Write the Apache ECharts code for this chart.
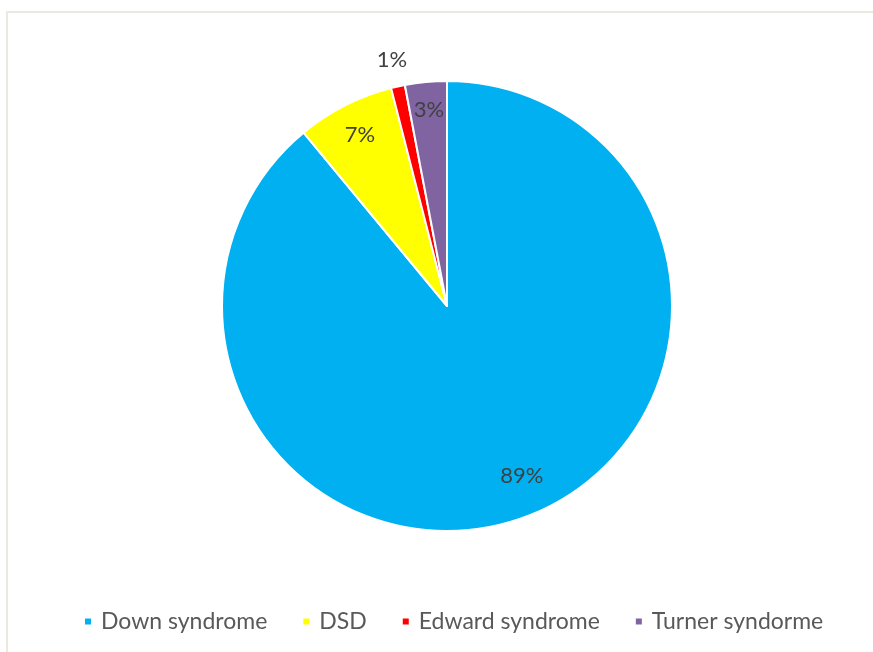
<!DOCTYPE html>
<html>
<head>
    <meta charset="utf-8" />
    <title>ECharts</title>
    <script src="https://cdn.jsdelivr.net/npm/echarts@6/dist/echarts.min.js"></script>
    <style>
        html, body { margin: 0; padding: 0; background: #fff; }
    </style>
</head>
<body>
    <div id="main" style="width: 873px;height:652px;"></div>
    <script type="text/javascript">
        var names = ['Down syndrome', 'DSD', 'Edward syndrome', 'Turner syndorme'];
        var values = [89, 7, 1, 3];
        var colors = ['#00b0f0', '#ffff00', '#ff0000', '#8064a2'];
        // small slices get their label outside the pie
        var outside = ['Edward syndrome'];

        var myChart = echarts.init(document.getElementById('main'));

        var pieData = [];
        var innerLabels = [];
        var outerLabels = [];
        for (var i = 0; i < names.length; i++) {
            pieData.push({ name: names[i], value: values[i], itemStyle: { color: colors[i] } });
            var isOut = outside.indexOf(names[i]) >= 0;
            innerLabels.push({ name: names[i], value: values[i], label: { show: !isOut } });
            outerLabels.push({ name: names[i], value: values[i], label: { show: isOut } });
        }
        // excel nudges the big label a little
        innerLabels[0].label.offset = [10, -10];
        innerLabels[3].label.offset = [0, -5];

        var labelStyle = {
            show: true,
            position: 'inside',
            formatter: '{c}%',
            fontFamily: 'Lato',
            fontSize: 22,
            color: '#404040'
        };

        var option = {
            backgroundColor: '#fff',
            animation: false,
            graphic: [{
                type: 'rect',
                shape: { x: 7, y: 12, width: 880, height: 660 },
                style: { fill: 'none', stroke: '#ebeae0', lineWidth: 2 },
                silent: true
            }],
            legend: {
                bottom: 14,
                left: 78,
                itemWidth: 8,
                itemHeight: 8,
                itemGap: 34,
                icon: 'rect',
                textStyle: { fontFamily: 'Lato', fontSize: 23, color: '#595959', padding: [0, 0, 0, 4] },
                data: names
            },
            series: [{
                type: 'pie',
                center: [447, 306],
                radius: 225,
                startAngle: 90,
                clockwise: true,
                label: { show: false },
                labelLine: { show: false },
                itemStyle: { borderColor: '#fff', borderWidth: 2 },
                data: pieData
            }, {
                type: 'pie',
                center: [447, 306],
                radius: [152, 225],
                startAngle: 90,
                clockwise: true,
                silent: true,
                legendHoverLink: false,
                itemStyle: { color: 'rgba(0,0,0,0)' },
                label: labelStyle,
                labelLine: { show: false },
                data: innerLabels
            }, {
                type: 'pie',
                center: [447, 306],
                radius: [236, 262],
                startAngle: 90,
                clockwise: true,
                silent: true,
                legendHoverLink: false,
                itemStyle: { color: 'rgba(0,0,0,0)' },
                label: labelStyle,
                labelLine: { show: false },
                data: outerLabels
            }]
        };

        myChart.setOption(option);
    </script>
</body>
</html>
